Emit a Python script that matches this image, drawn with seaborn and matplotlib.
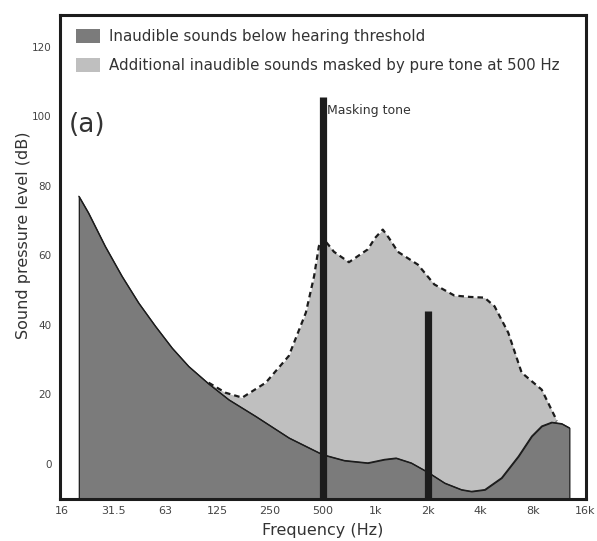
import numpy as np
import pandas as pd
import matplotlib
matplotlib.use("Agg")
import matplotlib.pyplot as plt
from matplotlib.patches import Patch
from matplotlib.ticker import NullFormatter
import seaborn as sns

# ---- data ----
threshold_freq = [20, 22.7, 28.3, 35.3, 44, 54.9, 68.5, 85.3, 111, 145, 207, 321,
                  500, 666, 908, 1131, 1320, 1611, 2010, 2506, 3126, 3568, 4257,
                  5311, 6627, 7905, 9024, 10300, 11760, 13000]
threshold_db = [77, 72.2, 62.6, 54, 46.3, 39.6, 33.3, 28, 23, 18.4, 13.6, 7.4,
                2.6, 0.9, 0.2, 1.2, 1.6, 0.2, -2.5, -5.6, -7.5, -8, -7.5,
                -4.1, 2.1, 7.9, 10.8, 11.9, 11.5, 10.3]

masked_freq = [111, 139, 173, 236, 320, 401, 447, 476, 500, 540, 581, 708, 908, 1000,
               1107, 1200, 1351, 1760, 2186, 2849, 3500, 4240, 4842, 5803, 6923,
               9024, 10720, 11000]
masked_db = [23.3, 20.4, 19, 23.3, 31, 43.5, 54, 62.6, 65, 63, 61, 58, 61.7, 65,
             67.4, 65, 61, 57.3, 51.6, 48.4, 48, 47.8, 45.3, 37.7, 26.2,
             21.3, 13.6, 12.2]

tone_freq = [500, 2000]
tone_db = [105.5, 44]

xtick_freqs = [16, 31.5, 63, 125, 250, 500, 1000, 2000, 4000, 8000, 16000]
xtick_labels = ["16", "31.5", "63", "125", "250", "500", "1k", "2k", "4k", "8k", "16k"]
ytick_vals = [0, 20, 40, 60, 80, 100, 120]

legend_labels = ["Inaudible sounds below hearing threshold",
                 "Additional inaudible sounds masked by pure tone at 500 Hz"]

# ---- style ----
sns.set_style("white")
plt.rcParams["font.family"] = ["DejaVu Sans"]

DARK = "#7b7b7b"
LIGHT = "#bfbfbf"
INK = "#1c1c1c"
TXT = "#333333"
Y_MIN, Y_MAX = -10.2, 129.2

fig = plt.figure(figsize=(5.97, 5.41), dpi=100)
ax = fig.add_axes([0.1005, 0.0776, 0.8811, 0.8947])

thr = pd.DataFrame({"freq": threshold_freq, "db": threshold_db})
msk = pd.DataFrame({"freq": masked_freq, "db": masked_db})

# light masked region
ax.fill_between(msk["freq"], Y_MIN, msk["db"], color=LIGHT, linewidth=0, zorder=1)
sns.lineplot(data=msk, x="freq", y="db", ax=ax, color=INK, linewidth=1.6,
             linestyle=(0, (2.5, 1.8)), sort=False, zorder=3)

# dark threshold region
ax.fill_between(thr["freq"], Y_MIN, thr["db"], color=DARK, edgecolor=INK,
                linewidth=0.9, zorder=2)
sns.lineplot(data=thr, x="freq", y="db", ax=ax, color=INK, linewidth=0.9,
             sort=False, zorder=3)

# tones
ax.vlines(tone_freq, Y_MIN, tone_db, colors=INK, linewidth=5.2, zorder=4)
ax.text(tone_freq[0] * 1.06, tone_db[0] - 1.8, "Masking tone", fontsize=9,
        color=TXT, va="top", ha="left")

ax.text(0.017, 0.773, "(a)", transform=ax.transAxes, fontsize=19, color=TXT,
        va="center", ha="left")

ax.set_xscale("log")
ax.set_xlim(15.6, 16200)
ax.set_ylim(Y_MIN, Y_MAX)
ax.set_xticks(xtick_freqs)
ax.set_xticklabels(xtick_labels)
ax.set_xticks([threshold_freq[0], threshold_freq[-1]], minor=True)
ax.xaxis.set_minor_formatter(NullFormatter())
ax.set_yticks(ytick_vals)
ax.tick_params(axis="x", which="major", length=0, pad=5, labelsize=8, labelcolor="#444444")
ax.tick_params(axis="x", which="minor", length=6, width=1.2, color=INK, direction="inout")
ax.tick_params(axis="y", length=0, pad=6, labelsize=7.5, labelcolor="#444444")
ax.set_xlabel("Frequency (Hz)", fontsize=11.5, color=TXT)
ax.set_ylabel("Sound pressure level (dB)", fontsize=11.5, color=TXT)
ax.xaxis.set_label_coords(0.5, -0.049)
ax.yaxis.set_label_coords(-0.056, 0.545)

for s in ax.spines.values():
    s.set_linewidth(2.2)
    s.set_color(INK)

handles = [Patch(facecolor=DARK, edgecolor="none"), Patch(facecolor=LIGHT, edgecolor="none")]
ax.legend(handles, legend_labels, loc="upper left", bbox_to_anchor=(0.01, 0.993),
          frameon=False, fontsize=10.8, labelcolor=TXT, handlelength=1.6,
          handleheight=1.05, handletextpad=0.6, labelspacing=0.95, borderaxespad=0.3)

fig.savefig("out.png", dpi=100)
